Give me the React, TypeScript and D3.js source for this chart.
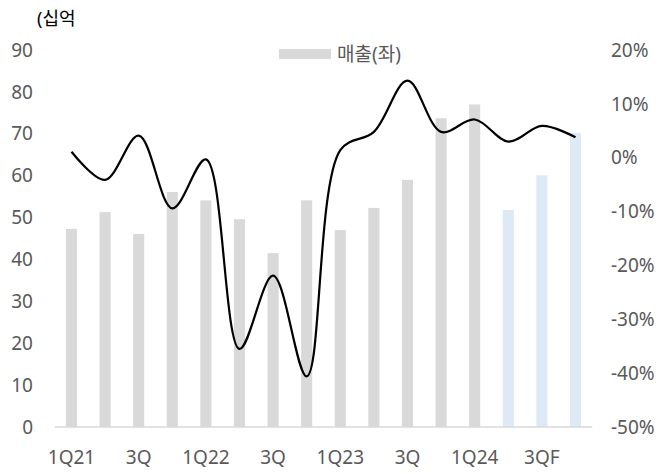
import { useEffect, useRef } from 'react';
import * as d3 from 'd3';

const quarters = [
  '1Q21', '2Q21', '3Q21', '4Q21',
  '1Q22', '2Q22', '3Q22', '4Q22',
  '1Q23', '2Q23', '3Q23', '4Q23',
  '1Q24', '2Q24F', '3Q24F', '4Q24F'
];
const tickLabels = ['1Q21', '3Q', '1Q22', '3Q', '1Q23', '3Q', '1Q24', '3QF'];
// 매출 (십억원)
const sales = [47.3, 51.3, 46.1, 56.1, 54.1, 49.6, 41.5, 54.1, 47.0, 52.3, 59.0, 73.7, 77.0, 51.8, 60.1, 70.2];
// 우축 (%)
const growth = [1.1, -4.1, 4.1, -9.4, -0.3, -35.5, -21.9, -40.6, 1.4, 4.8, 14.3, 4.8, 7.1, 3.0, 5.9, 3.8];
const isForecast = [false, false, false, false, false, false, false, false, false, false, false, false, false, true, true, true];
const leftTicks = [0, 10, 20, 30, 40, 50, 60, 70, 80, 90];
const rightTicks = [-50, -40, -30, -20, -10, 0, 10, 20];

const font = '"Noto Sans", "Noto Sans CJK KR", sans-serif';
const textColor = '#595959';

export default function App() {
  const svgRef = useRef<SVGSVGElement>(null);

  useEffect(() => {
    if (!svgRef.current) return;
    const svg = d3.select(svgRef.current);
    svg.selectAll('*').remove();

    const top = 50;
    const bottom = 427;
    const xScale = d3.scaleBand<string>().domain(quarters).range([54.7, 592.3]).paddingInner(0.67).paddingOuter(0.335);
    const yLeft = d3.scaleLinear().domain([0, 90]).range([bottom, top]);
    const yRight = d3.scaleLinear().domain([-50, 20]).range([bottom, top]);

    // Bars
    svg.append('g')
      .selectAll('rect')
      .data(sales)
      .enter()
      .append('rect')
      .attr('x', (_d, i) => xScale(quarters[i]) as number)
      .attr('y', (d) => yLeft(d))
      .attr('width', xScale.bandwidth())
      .attr('height', (d) => bottom - yLeft(d))
      .attr('fill', (_d, i) => (isForecast[i] ? '#ddeaf6' : '#d9d9d9'));

    // x axis line
    svg.append('line')
      .attr('x1', 54.7)
      .attr('x2', 592.3)
      .attr('y1', bottom)
      .attr('y2', bottom)
      .attr('stroke', '#d9d9d9')
      .attr('stroke-width', 1.5);

    // Line
    const lineGen = d3
      .line<number>()
      .x((_d, i) => (xScale(quarters[i]) as number) + xScale.bandwidth() / 2)
      .y((d) => yRight(d))
      .curve(d3.curveCatmullRom.alpha(0.5));

    svg.append('path')
      .datum(growth)
      .attr('fill', 'none')
      .attr('stroke', '#000')
      .attr('stroke-width', 2.2)
      .attr('d', lineGen);

    // Left ticks
    svg.append('g')
      .selectAll('text')
      .data(leftTicks)
      .enter()
      .append('text')
      .attr('x', 33)
      .attr('y', (d) => yLeft(d))
      .attr('dy', '0.35em')
      .attr('text-anchor', 'end')
      .attr('font-size', 19)
      .attr('font-family', font)
      .attr('fill', textColor)
      .text((d) => d);

    // Right ticks
    svg.append('g')
      .selectAll('text')
      .data(rightTicks)
      .enter()
      .append('text')
      .attr('x', 611)
      .attr('y', (d) => yRight(d))
      .attr('dy', '0.35em')
      .attr('text-anchor', 'start')
      .attr('font-size', 19)
      .attr('font-family', font)
      .attr('fill', textColor)
      .text((d) => `${d}%`);

    // x labels
    svg.append('g')
      .selectAll('text')
      .data(tickLabels)
      .enter()
      .append('text')
      .attr('x', (_d, i) => (xScale(quarters[i * 2]) as number) + xScale.bandwidth() / 2)
      .attr('y', 464)
      .attr('text-anchor', 'middle')
      .attr('font-size', 19)
      .attr('font-family', font)
      .attr('fill', textColor)
      .text((d) => d);

    // unit
    svg.append('text')
      .attr('x', 37)
      .attr('y', 25)
      .attr('font-size', 18)
      .attr('font-family', font)
      .attr('fill', '#000')
      .text('(십억');

    // legend
    svg.append('rect')
      .attr('x', 279)
      .attr('y', 49)
      .attr('width', 52)
      .attr('height', 10)
      .attr('fill', '#d9d9d9');
    svg.append('text')
      .attr('x', 337)
      .attr('y', 54)
      .attr('dy', '0.35em')
      .attr('font-size', 19)
      .attr('font-family', font)
      .attr('fill', textColor)
      .text('매출(좌)');
  }, []);

  return (
    <svg
      ref={svgRef}
      width={665}
      height={474}
      style={{ position: 'absolute', left: 0, top: 0, background: '#fff' }}
    />
  );
}
